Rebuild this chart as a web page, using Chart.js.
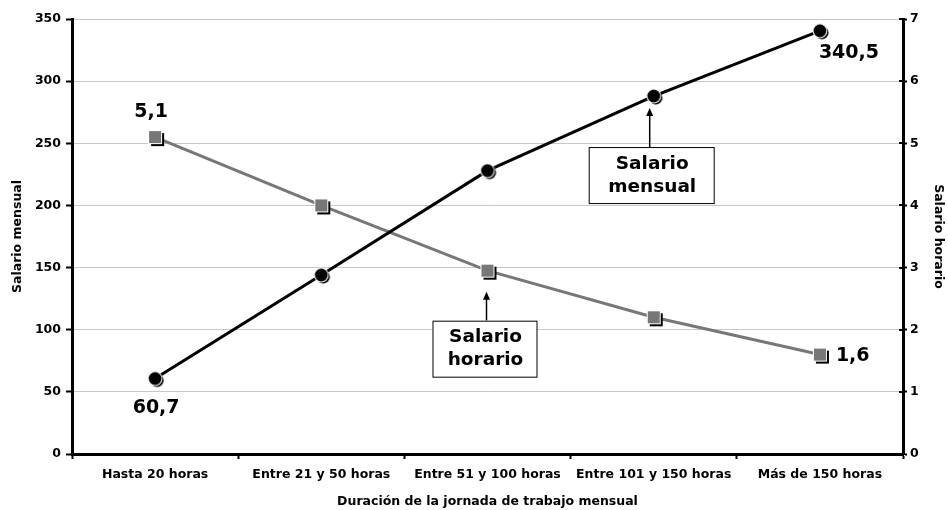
<!DOCTYPE html>
<html>
<head>
<meta charset="utf-8">
<script src="https://cdn.jsdelivr.net/npm/chart.js@4"></script>
<style>
  html, body { margin: 0; padding: 0; background: #fff; }
  #wrap { width: 948px; height: 510px; }
</style>
</head>
<body>
<div id="wrap"><canvas id="c" width="948" height="510"></canvas></div>
<script>
const categories = ['Hasta 20 horas', 'Entre 21 y 50 horas', 'Entre 51 y 100 horas', 'Entre 101 y 150 horas', 'Más de 150 horas'];
const salarioMensual = [60.7, 144, 228, 288, 340.5];
const salarioHorario = [5.1, 4.0, 2.95, 2.2, 1.6];
const leftTicks = [0, 50, 100, 150, 200, 250, 300, 350];
const rightTicks = [0, 1, 2, 3, 4, 5, 6, 7];

const tickFont = { family: '"DejaVu Sans", Verdana, sans-serif', size: 12.5, weight: 'bold' };
const labelFont = 'bold 19px "DejaVu Sans", Verdana, sans-serif';
const boxFont = 'bold 18.5px "DejaVu Sans", Verdana, sans-serif';

// marker images: shape with a dark drop shadow to the lower right
function makeMarker(kind) {
  const s = 22, c = document.createElement('canvas');
  c.width = s; c.height = s;
  const g = c.getContext('2d'), m = s / 2;
  if (kind === 'circle') {
    g.fillStyle = '#000';
    g.beginPath(); g.arc(m + 1.8, m + 1.8, 6.8, 0, Math.PI * 2); g.fill();
    g.fillStyle = '#fff';
    g.beginPath(); g.arc(m, m, 7.4, 0, Math.PI * 2); g.fill();
    g.fillStyle = '#000';
    g.beginPath(); g.arc(m, m, 6.4, 0, Math.PI * 2); g.fill();
  } else {
    g.fillStyle = '#000';
    g.fillRect(m - 6 + 2, m - 6 + 2, 13, 13);
    g.fillStyle = '#fff';
    g.fillRect(m - 7, m - 7, 14, 14);
    g.fillStyle = '#777';
    g.fillRect(m - 6, m - 6, 12, 12);
  }
  return c;
}
const circleImg = makeMarker('circle');
const squareImg = makeMarker('square');

// value labels and callout boxes
const annotations = {
  id: 'annotations',
  afterDatasetsDraw(chart) {
    const ctx = chart.ctx;
    const x = chart.scales.x, yL = chart.scales.y, yR = chart.scales.y1;
    ctx.save();
    ctx.fillStyle = '#000';
    ctx.font = labelFont;
    ctx.textBaseline = 'middle';
    // end-point values
    ctx.textAlign = 'center';
    ctx.fillText('60,7', x.getPixelForValue(0) + 1, yL.getPixelForValue(salarioMensual[0]) + 30);
    ctx.fillText('5,1', x.getPixelForValue(0) - 4, yR.getPixelForValue(salarioHorario[0]) - 25);
    ctx.textAlign = 'left';
    ctx.fillText('340,5', x.getPixelForValue(4) - 1, yL.getPixelForValue(salarioMensual[4]) + 22);
    ctx.fillText('1,6', x.getPixelForValue(4) + 16, yR.getPixelForValue(salarioHorario[4]) + 1);

    function callout(px, tipY, bx, by, bw, bh, lines) {
      ctx.strokeStyle = '#000';
      ctx.lineWidth = 1.5;
      ctx.beginPath(); ctx.moveTo(px, by); ctx.lineTo(px, tipY + 6); ctx.stroke();
      ctx.fillStyle = '#000';
      ctx.beginPath(); ctx.moveTo(px, tipY); ctx.lineTo(px - 3.5, tipY + 8); ctx.lineTo(px + 3.5, tipY + 8); ctx.closePath(); ctx.fill();
      ctx.fillStyle = '#fff';
      ctx.fillRect(bx, by, bw, bh);
      ctx.lineWidth = 1;
      ctx.strokeRect(bx + 0.5, by + 0.5, bw, bh);
      ctx.fillStyle = '#000';
      ctx.font = boxFont;
      ctx.textAlign = 'center';
      ctx.textBaseline = 'middle';
      lines.forEach((t, i) => ctx.fillText(t, bx + bw / 2 + 1, by + 17 + i * 23));
    }
    const hx = x.getPixelForValue(2) - 1, hy = yR.getPixelForValue(salarioHorario[2]);
    callout(hx, hy + 21, hx - 54, hy + 50, 104, 56, ['Salario', 'horario']);
    const mx = x.getPixelForValue(3) - 4, my = yL.getPixelForValue(salarioMensual[3]);
    callout(mx, my + 12, mx - 61, my + 51, 125, 56, ['Salario', 'mensual']);

    // inner half of right axis tick marks
    ctx.strokeStyle = '#000';
    ctx.lineWidth = 2;
    rightTicks.forEach(v => {
      const py = Math.round(yR.getPixelForValue(v));
      ctx.beginPath(); ctx.moveTo(yR.left - 4, py); ctx.lineTo(yR.left, py); ctx.stroke();
    });
    ctx.restore();
  }
};

new Chart(document.getElementById('c'), {
  type: 'line',
  data: {
    labels: categories,
    datasets: [
      {
        label: 'Salario mensual',
        data: salarioMensual,
        yAxisID: 'y',
        borderColor: '#000',
        borderWidth: 3,
        pointStyle: circleImg,
        tension: 0,
        order: 1
      },
      {
        label: 'Salario horario',
        data: salarioHorario,
        yAxisID: 'y1',
        borderColor: '#777',
        borderWidth: 3,
        pointStyle: squareImg,
        tension: 0,
        order: 2
      }
    ]
  },
  options: {
    responsive: false,
    animation: false,
    devicePixelRatio: 1,
    layout: { padding: { top: 19, left: 0, right: 0, bottom: 0 } },
    plugins: { legend: { display: false }, tooltip: { enabled: false } },
    scales: {
      x: {
        type: 'category',
        offset: true,
        afterFit(s) { s.height = 56; },
        grid: { display: true, offset: true, drawOnChartArea: false, drawTicks: true, tickLength: 5, tickColor: '#000', tickWidth: 2 },
        border: { display: true, color: '#000', width: 3 },
        ticks: { color: '#000', font: tickFont, padding: 8, maxRotation: 0, autoSkip: false },
        title: { display: true, text: 'Duración de la jornada de trabajo mensual', color: '#000', font: tickFont, padding: { top: 0, bottom: 1 } }
      },
      y: {
        position: 'left',
        min: 0, max: 350,
        afterFit(s) { s.width = 72; },
        afterBuildTicks(s) { s.ticks = leftTicks.map(v => ({ value: v })); },
        grid: { color: '#c8c8c8', lineWidth: 1, drawTicks: true, tickLength: 6, tickColor: '#000', tickWidth: 2 },
        border: { display: true, color: '#000', width: 3 },
        ticks: { color: '#000', font: tickFont, padding: 5 },
        title: { display: true, text: 'Salario mensual', color: '#000', font: tickFont, padding: { top: 10, bottom: 0 } }
      },
      y1: {
        position: 'right',
        min: 0, max: 7,
        afterFit(s) { s.width = 45; },
        afterBuildTicks(s) { s.ticks = rightTicks.map(v => ({ value: v })); },
        grid: { drawOnChartArea: false, drawTicks: true, tickLength: 4, tickColor: '#000', tickWidth: 2 },
        border: { display: true, color: '#000', width: 3 },
        ticks: { color: '#000', font: tickFont, padding: 3 },
        title: { display: true, text: 'Salario horario', color: '#000', font: tickFont, padding: { top: 2, bottom: 3 } }
      }
    }
  },
  plugins: [annotations]
});
</script>
</body>
</html>
